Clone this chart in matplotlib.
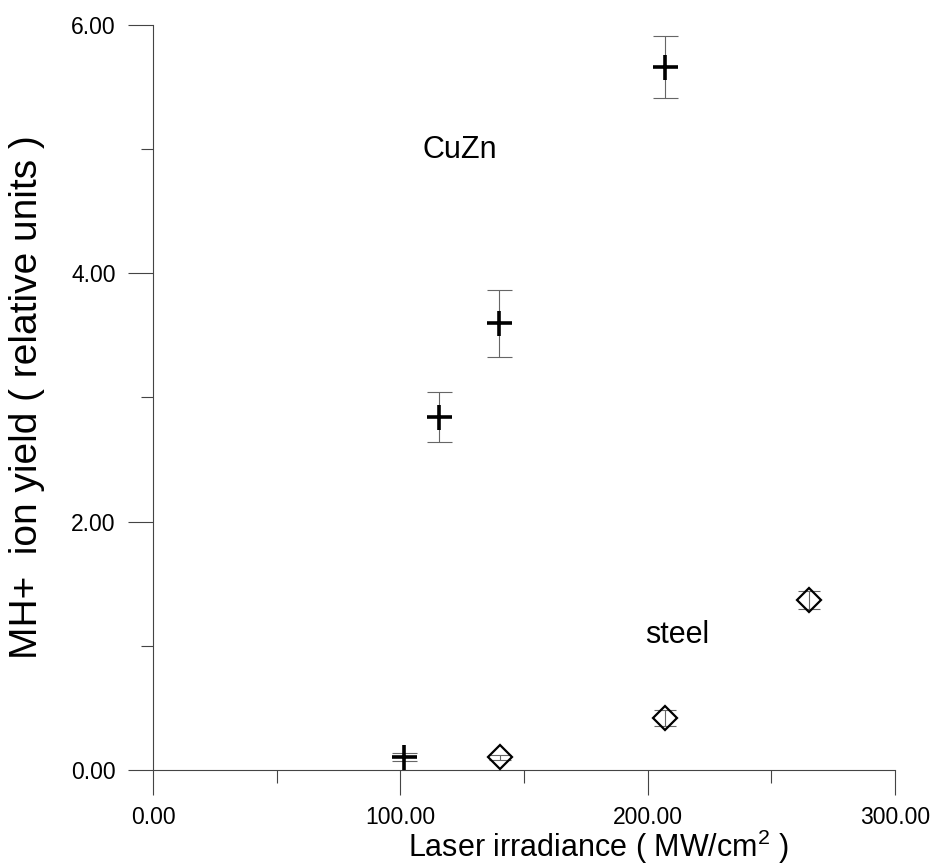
import numpy as np
from matplotlib import pyplot as plt
from matplotlib.ticker import MultipleLocator, FormatStrFormatter

plt.rcParams['font.family'] = ['Liberation Sans', 'DejaVu Sans']
plt.rcParams['mathtext.fontset'] = 'custom'
plt.rcParams['mathtext.rm'] = 'Liberation Sans'

# MH+ ion yield vs laser irradiance
cuzn_x = [101.5, 115.6, 140.0, 207.0]
cuzn_y = [0.105, 2.845, 3.597, 5.66]
cuzn_err = [0.03, 0.20, 0.27, 0.25]

steel_x = [140.2, 207.0, 265.4]
steel_y = [0.102, 0.416, 1.369]
steel_err = [0.02, 0.065, 0.07]

xticks = [0, 100, 200, 300]
yticks = [0, 2, 4, 6]

fig = plt.figure(figsize=(9.32, 8.66), dpi=100)
ax = fig.add_axes([0.1642, 0.1109, 0.7961, 0.8602])

axcol = '#444444'
errcol = '#666666'

# error bars first, then markers on top
ax.errorbar(cuzn_x, cuzn_y, yerr=cuzn_err, fmt='none', ecolor=errcol,
            elinewidth=0.8, capsize=9, capthick=0.8, zorder=2)
ax.plot(cuzn_x, cuzn_y, '+', color='black', markersize=18, mew=2.6, zorder=3)

ax.errorbar(steel_x, steel_y, yerr=steel_err, fmt='none', ecolor=errcol,
            elinewidth=0.8, capsize=8, capthick=0.8, zorder=2)
ax.plot(steel_x, steel_y, 'D', color='black', markerfacecolor='none',
        markersize=12, mew=1.6, zorder=3)

ax.text(109, 4.99, 'CuZn', fontsize=22, va='center', ha='left')
ax.text(199, 1.087, 'steel', fontsize=22, va='center', ha='left')

ax.set_xlim(0, 300)
ax.set_ylim(0, 6)
ax.set_xticks(xticks)
ax.set_yticks(yticks)
ax.xaxis.set_minor_locator(MultipleLocator(50))
ax.yaxis.set_minor_locator(MultipleLocator(1))
ax.xaxis.set_major_formatter(FormatStrFormatter('%.2f'))
ax.yaxis.set_major_formatter(FormatStrFormatter('%.2f'))

for s in ['top', 'right']:
    ax.spines[s].set_visible(False)
for s in ['left', 'bottom']:
    ax.spines[s].set_color(axcol)
    ax.spines[s].set_linewidth(0.8)

ax.tick_params(which='major', direction='out', length=18, width=0.8,
               color=axcol, labelsize=16.5)
ax.tick_params(which='minor', direction='out', length=9, width=0.8, color=axcol)
ax.tick_params(axis='x', which='major', pad=8)
ax.tick_params(axis='y', which='major', pad=9)

ax.set_xlabel('Laser irradiance ( MW/cm$^{2}$ )', fontsize=22)
ax.xaxis.set_label_coords(0.60, -0.078)
ax.set_ylabel('MH+  ion yield ( relative units )', fontsize=28)
ax.yaxis.set_label_coords(-0.146, 0.5)

fig.savefig('out.png', dpi=100)
